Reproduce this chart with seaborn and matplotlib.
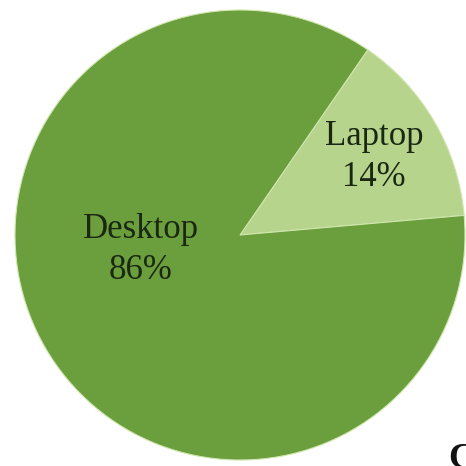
import matplotlib
matplotlib.use("Agg")
import matplotlib.pyplot as plt
import seaborn as sns

categories = ["Laptop", "Desktop"]
shares = [14, 86]
colors = ["#b7d48c", "#6b9e3c"]

sns.set_theme(style="white")
plt.rcParams['font.family'] = ['Liberation Serif', 'DejaVu Serif']

fig = plt.figure(figsize=(4.66, 4.66), dpi=100)
ax = fig.add_axes([0, 0, 1, 1])
labels = [f"{c}\n{v}%" for c, v in zip(categories, shares)]
wedges, texts = ax.pie(shares, labels=labels, colors=colors, startangle=5,
                       labeldistance=0.69,
                       wedgeprops=dict(edgecolor="#cfe6ad", linewidth=0.8),
                       textprops=dict(fontsize=25, color="#1a2812", ha="center", va="center",
                                      linespacing=1.32))
texts[1].set_position((-0.44, -0.067))
for t in texts:
    t.set_ha("center")
ax.set_xlim(-240/225, 226/225)
ax.set_ylim(-231/225, 235/225)
ax.set_aspect("auto")
ax.axis("off")

fig.text(448/466, 1 - 443/466, "C", fontsize=26, fontweight="bold", color="#111111",
         ha="left", va="top")
fig.savefig("out.png", dpi=100, facecolor="white")
